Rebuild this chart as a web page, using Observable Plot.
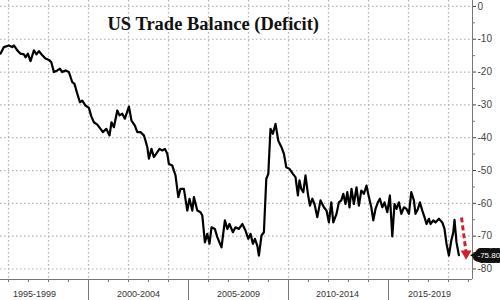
<!DOCTYPE html>
<html>
<head>
<meta charset="utf-8">
<script src="https://cdn.jsdelivr.net/npm/d3@7"></script>
<script src="https://cdn.jsdelivr.net/npm/@observablehq/plot@0.6"></script>
<style>
  html, body { margin: 0; padding: 0; background: #fff; }
  #chart { width: 500px; height: 300px; overflow: hidden; }
</style>
</head>
<body>
<div id="chart"></div>
<script>
// ---- data (decimal year, monthly goods trade balance, $bn) ----
const months = [
  1995.60,1995.77,1996.02,1996.19,1996.27,1996.44,1996.60,1996.77,1996.85,1996.97,
  1997.10,1997.27,1997.40,1997.52,1997.69,1997.85,1998.02,1998.14,1998.27,1998.44,
  1998.57,1998.69,1998.85,1999.02,1999.19,1999.30,1999.44,1999.57,1999.69,1999.85,
  2000.02,2000.14,2000.27,2000.44,2000.60,2000.72,2000.89,2001.05,2001.15,2001.27,
  2001.44,2001.55,2001.69,2001.82,2002.02,2002.15,2002.32,2002.44,2002.60,2002.77,
  2002.85,2002.94,2003.02,2003.15,2003.27,2003.44,2003.55,2003.69,2003.82,2003.94,
  2004.02,2004.19,2004.35,2004.49,2004.60,2004.77,2004.94,2005.05,2005.19,2005.27,
  2005.44,2005.60,2005.69,2005.82,2005.94,2006.05,2006.15,2006.32,2006.44,2006.65,
  2006.82,2006.94,2007.05,2007.22,2007.35,2007.52,2007.69,2007.85,2007.99,2008.10,
  2008.22,2008.32,2008.44,2008.52,2008.65,2008.77,2008.89,2008.99,2009.10,2009.22,
  2009.35,2009.49,2009.65,2009.77,2009.89,2010.05,2010.22,2010.35,2010.47,2010.55,
  2010.64,2010.74,2010.85,2010.97,2011.07,2011.19,2011.30,2011.44,2011.60,2011.77,
  2011.90,2012.02,2012.14,2012.24,2012.40,2012.52,2012.64,2012.74,2012.85,2012.94,
  2013.05,2013.15,2013.27,2013.40,2013.52,2013.64,2013.77,2013.90,2014.02,2014.14,
  2014.24,2014.35,2014.47,2014.57,2014.69,2014.80,2014.94,2015.07,2015.19,2015.30,
  2015.40,2015.52,2015.64,2015.77,2015.90,2016.02,2016.14,2016.27,2016.35,2016.47,
  2016.57,2016.69,2016.80,2016.90,2017.02,2017.10,2017.24,2017.35,2017.52,2017.69,
  2017.80,2017.90,2018.02,2018.14,2018.24,2018.30,2018.40,2018.52
];
const balance = [
  -14.4,-12.4,-11.9,-12.4,-11.9,-13.4,-14.4,-14.6,-15.5,-14.4,
  -16.7,-13.4,-14.6,-13.6,-14.9,-15.9,-16.3,-17.0,-20.0,-19.5,
  -19.0,-20.0,-19.5,-20.0,-23.1,-23.6,-26.6,-29.2,-28.7,-30.2,
  -30.9,-33.5,-35.3,-36.0,-37.3,-38.3,-37.3,-39.3,-35.3,-36.8,
  -31.7,-33.2,-32.7,-34.2,-30.5,-34.8,-36.3,-38.3,-38.3,-39.3,
  -40.9,-42.9,-46.4,-43.4,-45.9,-44.4,-43.4,-43.9,-43.4,-44.9,
  -48.0,-48.5,-51.5,-58.1,-55.6,-55.6,-62.2,-58.6,-62.2,-58.1,
  -62.2,-62.7,-63.7,-71.9,-69.3,-72.3,-67.3,-67.8,-70.3,-73.4,
  -65.2,-67.8,-66.3,-68.8,-67.3,-67.8,-66.3,-68.3,-70.8,-69.3,
  -72.3,-70.8,-72.9,-75.9,-69.8,-68.8,-52.5,-51.0,-37.3,-38.8,
  -35.8,-40.9,-42.9,-44.9,-49.0,-49.5,-51.0,-52.0,-57.6,-53.0,
  -55.6,-56.6,-51.5,-57.1,-60.7,-58.6,-60.2,-64.2,-59.1,-61.2,
  -62.2,-65.8,-59.7,-65.8,-63.2,-59.7,-59.1,-57.1,-60.2,-56.6,
  -61.2,-55.6,-60.2,-55.1,-60.7,-56.1,-57.1,-54.6,-58.1,-61.2,
  -65.2,-61.7,-59.7,-58.6,-61.2,-59.7,-62.7,-57.6,-70.1,-60.2,
  -61.7,-59.7,-63.2,-61.2,-61.7,-63.2,-56.6,-59.1,-63.2,-61.7,
  -59.7,-62.2,-64.2,-66.3,-64.7,-66.3,-65.2,-65.8,-64.7,-65.8,
  -67.8,-72.3,-75.9,-71.3,-68.8,-65.0,-71.9,-75.8
];

const yTicks = [0, -10, -20, -30, -40, -50, -60, -70, -80];
const yMinorTicks = [-5, -15, -25, -35, -45, -55, -65, -75];
const gridYears = [1996, 1998, 2000, 2002, 2004, 2006, 2008, 2010, 2012, 2014, 2016, 2018];
const yearTicks = d3.range(1996, 2020);
const periodBreaks = [2000, 2005, 2010, 2015];
const periodLabels = ["1995-1999", "2000-2004", "2005-2009", "2010-2014", "2015-2019"];
const periodLabelPos = [1997.3, 2002.5, 2007.5, 2012.45, 2017.05];
const titleText = ["US Trade Balance (Deficit)"];
const arrowFrom = {year: 2018.65, value: -64.3};
const arrowTo = {year: 2018.88, value: -75.0};

const xDomain = [1995.6, 2019.2];
const yDomain = [-83.2, 1.8];

const data = months.map((m, i) => ({t: m, v: balance[i]}));
const last = data[data.length - 1];

const chart = Plot.plot({
  width: 500,
  height: 300,
  marginLeft: 0,
  marginRight: 28,
  marginTop: 0,
  marginBottom: 21,
  style: {background: "#fff", fontFamily: "Liberation Sans, Arial, sans-serif"},
  x: {domain: xDomain},
  y: {domain: yDomain},
  marks: [
    Plot.gridY(yTicks, {stroke: "#a8a8a8", strokeOpacity: 0.9, strokeWidth: 1.2, strokeDasharray: "1.5,2.5"}),
    Plot.gridX(gridYears, {stroke: "#a8a8a8", strokeOpacity: 0.9, strokeWidth: 1.2, strokeDasharray: "1.5,2.5"}),
    // axis lines
    Plot.ruleX([xDomain[1]], {stroke: "#777", strokeWidth: 1}),
    Plot.ruleY([yDomain[0]], {stroke: "#777", strokeWidth: 1}),
    // y axis (right)
    Plot.axisY({anchor: "right", ticks: yTicks, tickSize: 3, tickPadding: 2, fontSize: 10, label: null, color: "#444", tickFormat: d => String(d)}),
    Plot.axisY({anchor: "right", ticks: yMinorTicks, tickSize: 2, tickFormat: () => "", label: null, color: "#777"}),
    // x axis
    Plot.axisX({ticks: yearTicks, tickSize: 3, tickFormat: () => "", label: null, color: "#777"}),
    Plot.axisX({ticks: periodBreaks, tickSize: 21, tickFormat: () => "", label: null, color: "#777"}),
    Plot.axisX({ticks: periodLabelPos, tickSize: 0, tickPadding: 11, tickFormat: (d, i) => periodLabels[i], label: null, fontSize: 9, color: "#333"}),
    // the series
    Plot.line(data, {x: "t", y: "v", stroke: "#000", strokeWidth: 2.2, strokeLinejoin: "round"}),
    // red dashed arrow
    Plot.link([{}], {x1: arrowFrom.year, y1: arrowFrom.value, x2: arrowTo.year, y2: arrowTo.value, stroke: "#d0202a", strokeWidth: 3, strokeDasharray: "5,3"}),
    Plot.dot([arrowTo], {x: "year", y: "value", symbol: "triangle", rotate: 180, r: 4, fill: "#d0202a", stroke: "none", dy: 1}),
    // last-value label
    Plot.dot([last], {x: () => xDomain[1], y: "v", symbol: "triangle", rotate: -90, r: 3.5, fill: "#111", dx: 3}),
    Plot.text([last], {x: () => xDomain[1], y: "v", text: d => d.v.toFixed(2), textAnchor: "start", dx: 5, fontSize: 8, fill: "#fff", stroke: "#111", strokeWidth: 10, strokeLinejoin: "round"}),
    // title
    Plot.text(titleText, {frameAnchor: "top-left", text: d => d, textAnchor: "start", lineAnchor: "top", dx: 107, dy: 16, fontSize: 18.5, fontWeight: "bold", fontFamily: "Liberation Serif, Times New Roman, serif", fill: "#111"})
  ]
});
document.getElementById("chart").appendChild(chart);
</script>
</body>
</html>
